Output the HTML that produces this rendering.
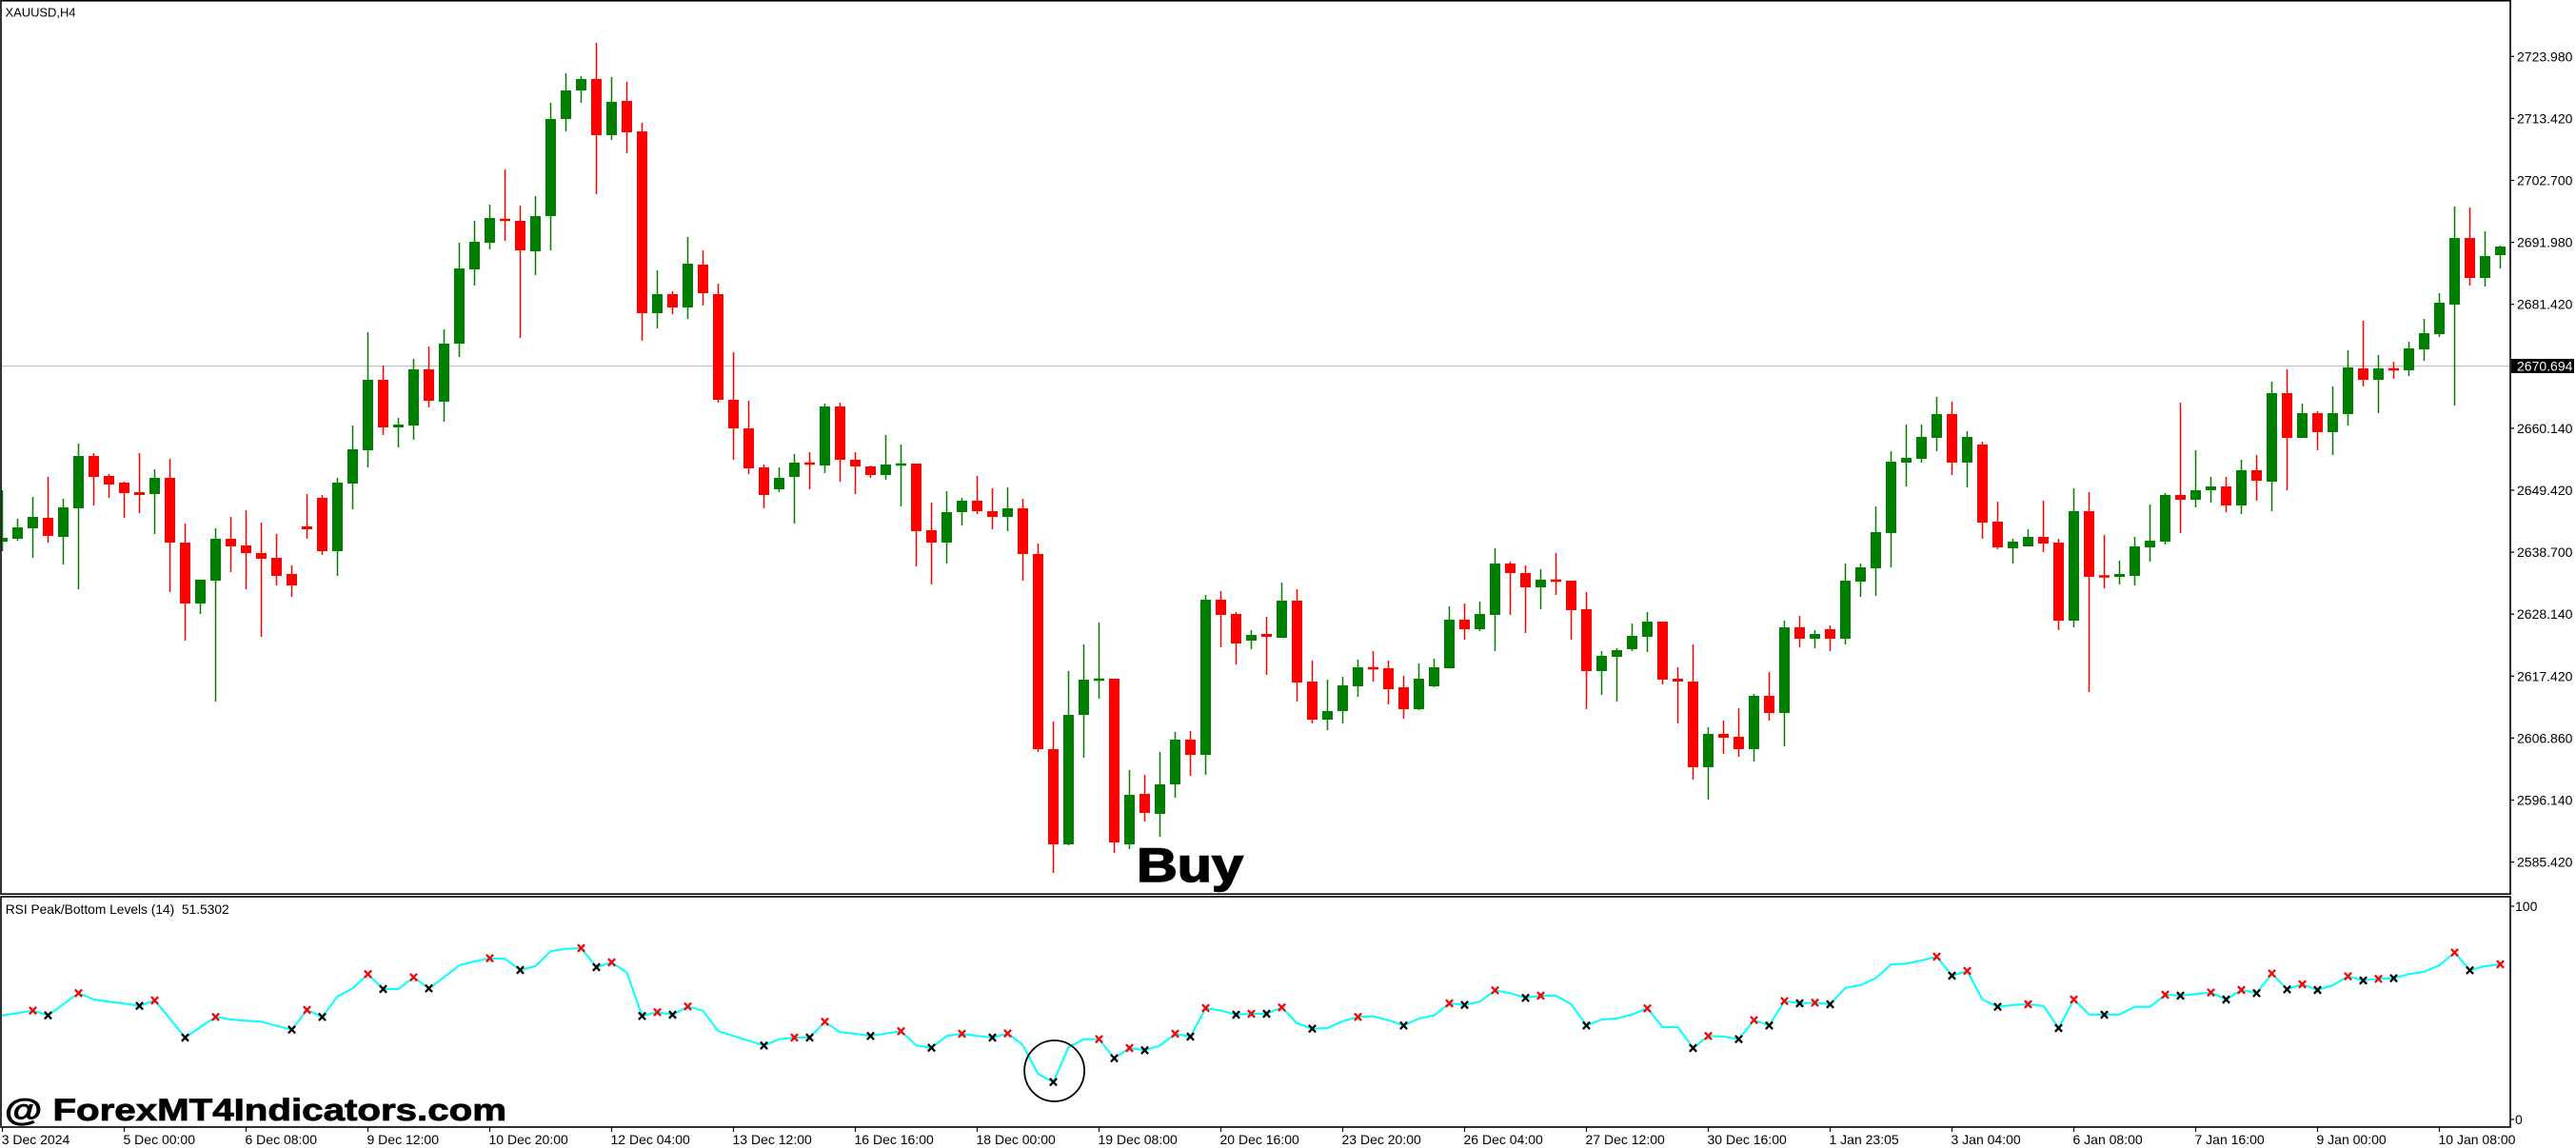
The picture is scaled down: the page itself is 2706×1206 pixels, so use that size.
<!DOCTYPE html>
<html><head><meta charset="utf-8"><style>
html,body{margin:0;padding:0;background:#fff;width:2706px;height:1206px;overflow:hidden}
svg{display:block}
</style></head><body>
<svg id="s" xmlns="http://www.w3.org/2000/svg" width="2706" height="1206" viewBox="0 0 2706 1206" font-family="'Liberation Sans', Arial, sans-serif">
<defs>
<clipPath id="cm"><rect x="1.5" y="1.5" width="2635" height="937"/></clipPath>
<clipPath id="cr"><rect x="1.5" y="942.5" width="2635" height="241"/></clipPath>
</defs>
<rect width="2706" height="1206" fill="#fff"/>
<!-- current price line -->
<line x1="1" y1="384.5" x2="2637" y2="384.5" stroke="#c0c0c0" stroke-width="1.2"/>
<g id="candles" clip-path="url(#cm)"></g>
<g id="rsi" clip-path="url(#cr)"></g>
<!-- borders -->
<rect x="1" y="0.8" width="2636" height="938.4" fill="none" stroke="#000" stroke-width="1.6"/>
<rect x="1" y="942" width="2636" height="242" fill="none" stroke="#000" stroke-width="1.6"/>
<!-- titles -->
<text x="5.5" y="17.5" font-size="13" textLength="74" lengthAdjust="spacingAndGlyphs">XAUUSD,H4</text>
<text x="5.7" y="960" font-size="14" textLength="235" lengthAdjust="spacingAndGlyphs" xml:space="preserve">RSI Peak/Bottom Levels (14)  51.5302</text>
<!-- price axis -->
<g font-size="14" fill="#000" stroke="none">
<text x="2644" y="64.3">2723.980</text>
<text x="2644" y="129.4">2713.420</text>
<text x="2644" y="194.5">2702.700</text>
<text x="2644" y="259.6">2691.980</text>
<text x="2644" y="324.7">2681.420</text>
<text x="2644" y="454.9">2660.140</text>
<text x="2644" y="520">2649.420</text>
<text x="2644" y="585.1">2638.700</text>
<text x="2644" y="650.2">2628.140</text>
<text x="2644" y="715.3">2617.420</text>
<text x="2644" y="780.4">2606.860</text>
<text x="2644" y="845.5">2596.140</text>
<text x="2644" y="910.6">2585.420</text>
<text x="2642" y="957">100</text>
<text x="2642" y="1181">0</text>
</g>
<g stroke="#000" stroke-width="1.2">
<line x1="2637" x2="2641" y1="59.3" y2="59.3"/><line x1="2637" x2="2641" y1="124.4" y2="124.4"/>
<line x1="2637" x2="2641" y1="189.5" y2="189.5"/><line x1="2637" x2="2641" y1="254.6" y2="254.6"/>
<line x1="2637" x2="2641" y1="319.7" y2="319.7"/><line x1="2637" x2="2641" y1="449.9" y2="449.9"/>
<line x1="2637" x2="2641" y1="515" y2="515"/><line x1="2637" x2="2641" y1="580.1" y2="580.1"/>
<line x1="2637" x2="2641" y1="645.2" y2="645.2"/><line x1="2637" x2="2641" y1="710.3" y2="710.3"/>
<line x1="2637" x2="2641" y1="775.4" y2="775.4"/><line x1="2637" x2="2641" y1="840.5" y2="840.5"/>
<line x1="2637" x2="2641" y1="905.6" y2="905.6"/>
<line x1="2637" x2="2641" y1="952" y2="952"/><line x1="2637" x2="2641" y1="1176" y2="1176"/>
</g>
<rect x="2638" y="377" width="66" height="15" fill="#000"/>
<text x="2644" y="389.5" font-size="14" fill="#fff">2670.694</text>
<!-- time axis -->
<g id="tticks" stroke="#000" stroke-width="1.2"></g>
<g font-size="14" fill="#000">
<text x="1.7" y="1202">3 Dec 2024</text>
<text x="129.5" y="1202">5 Dec 00:00</text>
<text x="257.5" y="1202">6 Dec 08:00</text>
<text x="385.5" y="1202">9 Dec 12:00</text>
<text x="513.5" y="1202">10 Dec 20:00</text>
<text x="641.5" y="1202">12 Dec 04:00</text>
<text x="769.5" y="1202">13 Dec 12:00</text>
<text x="897.5" y="1202">16 Dec 16:00</text>
<text x="1025.5" y="1202">18 Dec 00:00</text>
<text x="1153.5" y="1202">19 Dec 08:00</text>
<text x="1281.5" y="1202">20 Dec 16:00</text>
<text x="1409.5" y="1202">23 Dec 20:00</text>
<text x="1537.5" y="1202">26 Dec 04:00</text>
<text x="1665.5" y="1202">27 Dec 12:00</text>
<text x="1793.5" y="1202">30 Dec 16:00</text>
<text x="1921.5" y="1202">1 Jan 23:05</text>
<text x="2049.5" y="1202">3 Jan 04:00</text>
<text x="2177.5" y="1202">6 Jan 08:00</text>
<text x="2305.5" y="1202">7 Jan 16:00</text>
<text x="2433.5" y="1202">9 Jan 00:00</text>
<text x="2561.5" y="1202">10 Jan 08:00</text>
</g>
<!-- Buy label -->
<text x="1194" y="926" font-size="50" font-weight="bold" fill="#000" stroke="#000" stroke-width="1.5" textLength="112" lengthAdjust="spacingAndGlyphs">Buy</text>
<!-- circle -->
<ellipse cx="1107.6" cy="1125" rx="31.5" ry="32" fill="none" stroke="#000" stroke-width="1.8"/>
<!-- watermark -->
<text x="5" y="1177" font-size="32" font-weight="bold" fill="#000" stroke="#000" stroke-width="0.8" textLength="527" lengthAdjust="spacingAndGlyphs">@ ForexMT4Indicators.com</text>
</svg>
<script>
(function(){
var NS="http://www.w3.org/2000/svg";
var D="G 565 569 515 579|G 554 566 545 568|G 543 555 522 586|R 544 563 501 570|G 533 564 524 593|G 479 534 466 619|R 479 501 476 531|R 500 509 498 523|R 507 518 506 544|R 517 520 476 539|G 502 519 493 561|R 502 570 482 622|R 570 634 550 673|G 609 634 609 645|G 566 610 555 737|R 566 574 543 601|R 573 581 536 619|R 581 587 549 669|R 586 605 561 615|R 603 615 594 627|R 553 556 519 566|R 523 579 520 583|G 507 579 502 605|G 472 508 447 535|G 399 473 349 491|R 399 449 384 457|G 446 449 439 470|G 388 447 377 462|R 388 421 364 428|G 361 422 346 443|G 282 361 255 375|G 254 283 232 300|G 229 255 215 262|R 230 232 178 253|R 232 263 216 355|G 227 264 206 289|G 125 227 108 263|G 95 125 77 138|G 83 95 80 108|R 83 142 45 204|G 107 142 81 147|R 106 139 86 161|"+
"R 138 329 129 358|G 309 329 284 345|R 309 323 306 330|G 277 323 249 335|R 278 308 263 321|R 309 420 298 423|R 420 450 370 483|R 450 492 421 498|R 491 520 488 534|G 502 514 491 517|G 486 501 477 550|R 486 488 475 514|G 427 489 424 497|R 427 483 423 506|R 483 490 475 519|R 490 499 489 502|G 488 499 457 504|G 487 489 467 532|R 487 558 487 595|R 557 570 528 614|G 538 570 516 592|G 526 538 523 552|R 526 537 500 540|R 537 543 513 556|G 534 543 512 558|R 534 582 524 610|R 582 787 571 790|R 787 887 758 917|G 751 887 705 888|G 714 751 677 796|G 713 715 654 734|R 713 885 713 896|G 835 887 809 892|R 834 854 814 863|G 824 855 790 879|G 777 824 769 838|R 777 793 768 815|G 630 793 625 814|R 630 646 621 680|R 645 676 643 698|G 667 673 662 682|R 666 669 648 709|"+
"G 631 670 612 670|R 631 717 619 737|R 716 756 694 760|G 747 756 714 767|G 720 747 711 760|G 701 721 693 732|R 701 703 684 716|R 702 724 694 740|R 722 745 710 755|G 713 745 697 746|G 701 721 692 722|G 651 702 637 702|R 651 661 634 672|G 645 661 632 663|G 592 646 576 684|R 592 602 590 646|R 602 617 594 665|G 609 617 598 640|R 609 611 581 625|R 610 641 610 672|R 640 705 622 745|G 689 705 684 730|G 683 690 681 737|G 668 682 655 684|G 653 669 643 685|R 653 714 653 719|R 713 716 701 760|R 716 806 677 819|G 771 806 764 840|R 771 775 757 792|R 774 787 744 795|G 731 787 729 800|R 731 749 706 757|G 659 749 652 784|R 659 671 647 680|G 666 671 662 681|R 661 671 657 684|G 610 671 592 677|G 596 611 592 627|G 559 597 532 626|"+
"G 485 560 474 596|G 481 486 446 511|G 459 482 446 486|G 435 460 417 474|R 435 486 422 499|G 459 486 453 512|R 467 549 464 566|R 548 575 527 577|G 569 576 566 592|G 564 574 556 574|R 564 571 526 580|R 570 652 566 662|G 537 652 513 659|R 537 606 517 727|R 605 606 562 618|G 603 606 589 614|G 574 605 564 615|G 568 575 530 590|G 520 569 518 572|R 520 525 423 560|G 515 525 473 533|G 511 515 501 528|R 511 531 501 538|G 494 531 483 540|R 494 505 478 526|G 413 506 401 537|R 413 460 388 515|G 434 460 424 460|R 434 454 432 473|G 434 454 406 478|G 386 435 368 447|R 387 399 337 406|G 387 399 373 434|R 387 389 380 398|G 366 389 359 395|G 350 367 335 379|G 318 351 308 354|G 250 320 217 426|R 250 292 218 300|G 269 292 243 301|G 259 268 258 282";
var rows=D.split("|");
var cg=document.getElementById("candles");
var wG="",wR="",bG="",bR="";
for(var i=0;i<rows.length;i++){
  var p=rows[i].trim().split(/\s+/);
  var x=2.5+16*i;
  var t=+p[1],b=+p[2],wt=+p[3],wb=+p[4];
  if(b-t<2.2){var m=(t+b)/2;t=m-1.2;b=m+1.2;}
  var w="M"+x+" "+wt+"V"+wb;
  var r="M"+(x-5.5)+" "+t+"H"+(x+5.5)+"V"+b+"H"+(x-5.5)+"Z";
  if(p[0]==="G"){wG+=w;bG+=r;}else{wR+=w;bR+=r;}
}
function path(d,attrs){var e=document.createElementNS(NS,"path");e.setAttribute("d",d);for(var k in attrs)e.setAttribute(k,attrs[k]);cg.appendChild(e);}
path(wG,{stroke:"#008000","stroke-width":"1.5",fill:"none"});
path(wR,{stroke:"#ff0000","stroke-width":"1.5",fill:"none"});
path(bG,{fill:"#008000"});
path(bR,{fill:"#ff0000"});

var R=[395,388,380,395,360,325,345,352,358,365,348,405,465,432,400,408,412,415,428,440,378,400,335,310,265,312,312,275,310,275,237,225,215,217,252,240,193,185,183,243,228,260,397,385,393,367,380,445,460,475,490,470,465,465,415,448,
453,460,452,445,490,497,460,453,460,465,452,488,580,605,495,470,470,530,498,505,490,453,462,372,380,393,390,390,370,420,437,435,413,400,398,410,427,405,395,357,362,352,316,325,340,333,333,360,427,408,405,392,373,432,432,
498,460,462,470,410,427,350,357,355,360,308,300,278,235,232,222,210,270,255,345,368,362,360,365,435,345,392,393,392,368,368,330,333,328,323,345,315,325,263,313,297,315,300,272,285,280,278,265,258,237,197,253,240,234];
var rg=document.getElementById("rsi");
var pts=[];
for(var j=0;j<R.length;j++){pts.push((2.5+16*j).toFixed(1)+","+(935+R[j]/3).toFixed(1));}
var pl=document.createElementNS(NS,"polyline");
pl.setAttribute("points","0,"+(935+397/3).toFixed(1)+" "+pts.join(" "));
pl.setAttribute("fill","none");pl.setAttribute("stroke","#00ffff");pl.setAttribute("stroke-width","2");pl.setAttribute("stroke-linejoin","round");
rg.appendChild(pl);
var red=[3,6,11,15,21,25,28,33,39,41,44,46,53,55,60,64,67,73,75,78,80,83,85,90,96,99,102,109,113,116,118,120,128,130,134,137,143,146,148,150,152,155,157,162,165];
var blk=[4,10,13,20,22,26,29,35,40,43,45,51,54,58,62,66,70,74,76,79,82,84,87,93,97,101,105,112,115,117,119,121,129,132,136,139,144,147,149,151,153,156,158,163];
function mk(list,col){
  var d="";
  for(var k=0;k<list.length;k++){
    var n=list[k]-1;var x=2.5+16*n;var y=935+R[n]/3;
    d+="M"+(x-3.6)+" "+(y-3.8)+"L"+(x+3.6)+" "+(y+3.8)+"M"+(x+3.6)+" "+(y-3.8)+"L"+(x-3.6)+" "+(y+3.8);
  }
  var e=document.createElementNS(NS,"path");e.setAttribute("d",d);e.setAttribute("stroke",col);e.setAttribute("stroke-width","2.3");e.setAttribute("fill","none");
  rg.appendChild(e);
}
mk(red,"#ff0000");mk(blk,"#000000");
var tt=document.getElementById("tticks");
for(var q=0;q<=20;q++){var l=document.createElementNS(NS,"line");var tx=2.5+128*q;l.setAttribute("x1",tx);l.setAttribute("x2",tx);l.setAttribute("y1","1184");l.setAttribute("y2","1189");tt.appendChild(l);}
})();
</script>
</body></html>
